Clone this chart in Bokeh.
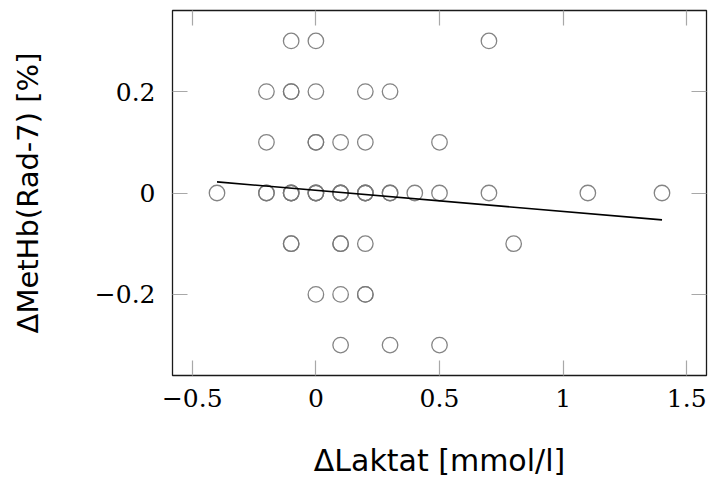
from bokeh.plotting import figure
from bokeh.models import FixedTicker, LinearAxis, Range1d, CustomLabelingPolicy
from bokeh.embed import file_html
from bokeh.resources import INLINE

# ---- data ----
laktat = [-0.1, 0.0, 0.7,
          -0.2, -0.1, -0.1, 0.0, 0.2, 0.3,
          -0.2, 0.0, 0.0, 0.1, 0.2, 0.5,
          -0.4, -0.2, -0.2, -0.1, -0.1, -0.1, 0.0, 0.0, 0.0, 0.1, 0.1, 0.1,
          0.2, 0.2, 0.2, 0.3, 0.3, 0.4, 0.5, 0.7, 1.1, 1.4,
          -0.1, -0.1, 0.1, 0.1, 0.2, 0.8,
          0.0, 0.1, 0.2, 0.2,
          0.1, 0.3, 0.5]
methb = [0.3, 0.3, 0.3,
         0.2, 0.2, 0.2, 0.2, 0.2, 0.2,
         0.1, 0.1, 0.1, 0.1, 0.1, 0.1,
         0.0, 0.0, 0.0, 0.0, 0.0, 0.0, 0.0, 0.0, 0.0, 0.0, 0.0, 0.0,
         0.0, 0.0, 0.0, 0.0, 0.0, 0.0, 0.0, 0.0, 0.0, 0.0,
         -0.1, -0.1, -0.1, -0.1, -0.1, -0.1,
         -0.2, -0.2, -0.2, -0.2,
         -0.3, -0.3, -0.3]

fit_x = [-0.4, 1.4]
fit_y = [0.022, -0.053]

x_ticks = [-0.5, 0.0, 0.5, 1.0, 1.5]
x_tick_labels = ["\u22120.5", "0", "0.5", "1", "1.5"]
y_ticks = [-0.2, 0.0, 0.2]
y_tick_labels = ["\u22120.2", "0", "0.2"]

x_title = "\u0394Laktat [mmol/l]"
y_title = "\u0394MetHb(Rad-7) [%]"

# ---- figure ----
p = figure(width=711, height=485, output_backend="svg", toolbar_location=None,
           x_range=Range1d(-0.58, 1.58), y_range=Range1d(-0.36, 0.36),
           min_border_left=172, min_border_right=5, min_border_top=10,
           min_border_bottom=110)
p.grid.visible = False
p.outline_line_color = "#1a1a1a"
p.outline_line_width = 1.3
p.background_fill_color = "white"
p.border_fill_color = "white"

tick_color = "#a8a8a8"

hide_all = CustomLabelingPolicy(code="for (const i of indices) { indices.unset(i) }")


def style_axis(ax, ticks, labels, show_labels, standoff):
    ax.ticker = FixedTicker(ticks=ticks)
    ax.axis_line_color = None
    ax.major_tick_in = 15
    ax.major_tick_out = 0
    ax.minor_tick_in = 0
    ax.minor_tick_out = 0
    ax.major_tick_line_color = tick_color
    ax.major_tick_line_width = 1.2
    ax.major_label_overrides = {t: l for t, l in zip(ticks, labels)}
    if show_labels:
        ax.major_label_text_font = "DejaVu Serif"
        ax.major_label_text_font_size = "25px"
        ax.major_label_text_color = "black"
        ax.major_label_standoff = standoff
    else:
        ax.major_label_text_font_size = "1px"
        ax.major_label_standoff = 0
        ax.major_label_policy = hide_all


style_axis(p.xaxis[0], x_ticks, x_tick_labels, True, 13)
style_axis(p.yaxis[0], y_ticks, y_tick_labels, True, 17)

p.xaxis[0].axis_label = x_title
p.xaxis[0].axis_label_text_font = "DejaVu Sans"
p.xaxis[0].axis_label_text_font_style = "normal"
p.xaxis[0].axis_label_text_font_size = "30px"
p.xaxis[0].axis_label_text_color = "black"
p.xaxis[0].axis_label_standoff = 33

p.yaxis[0].axis_label = y_title
p.yaxis[0].axis_label_text_font = "DejaVu Sans"
p.yaxis[0].axis_label_text_font_style = "normal"
p.yaxis[0].axis_label_text_font_size = "29px"
p.yaxis[0].axis_label_text_color = "black"
p.yaxis[0].axis_label_standoff = 47

top_axis = LinearAxis()
style_axis(top_axis, x_ticks, x_tick_labels, False, 0)
p.add_layout(top_axis, "above")
right_axis = LinearAxis()
style_axis(right_axis, y_ticks, y_tick_labels, False, 0)
p.add_layout(right_axis, "right")

# ---- marks ----
p.scatter(laktat, methb, marker="circle", size=15.5, fill_color=None,
          line_color="#777777", line_width=1.3, line_alpha=0.9)
p.line(fit_x, fit_y, line_color="black", line_width=1.6)

open("out.html", "w").write(file_html(p, INLINE))
